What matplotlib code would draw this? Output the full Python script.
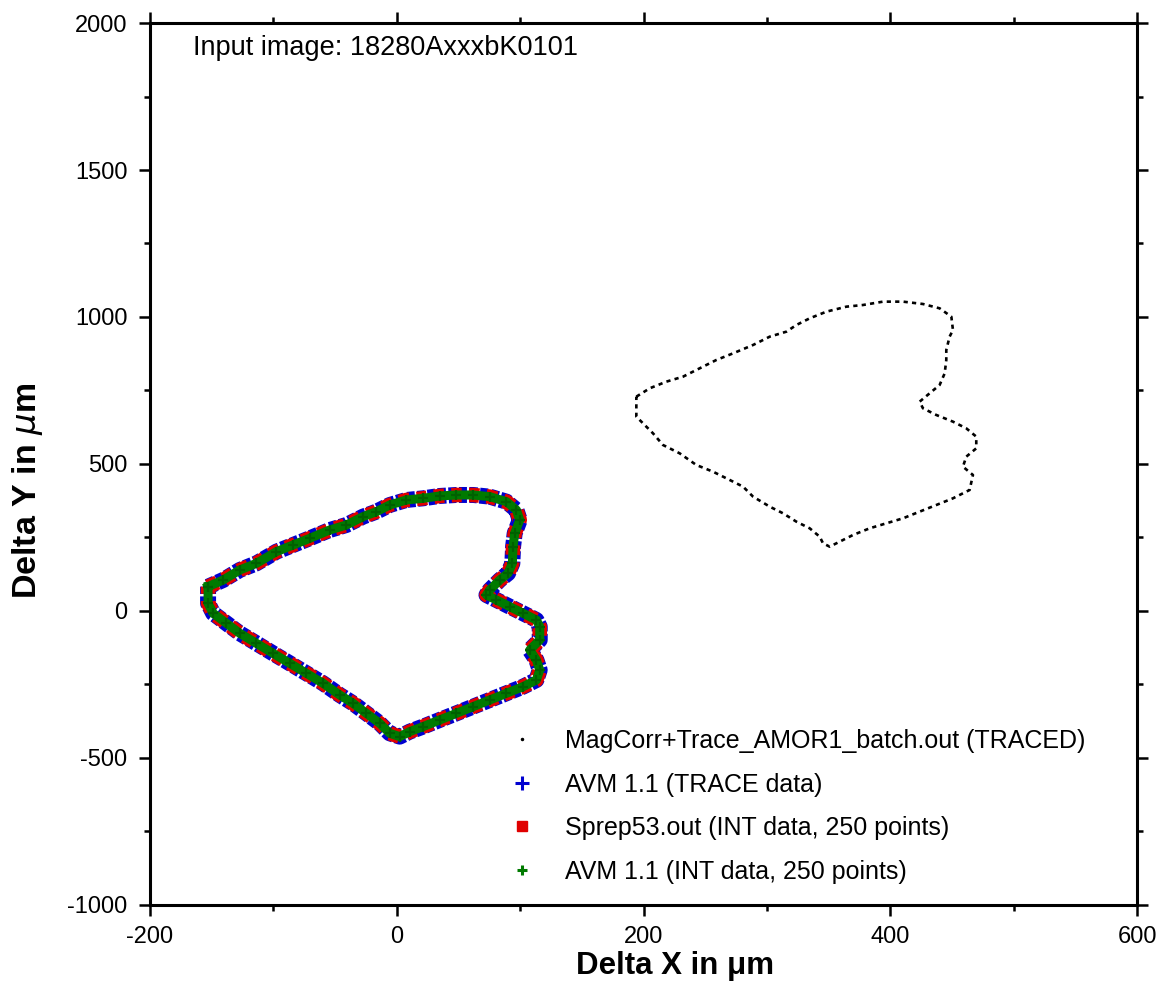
import matplotlib
matplotlib.use("Agg")
import matplotlib.pyplot as plt
from matplotlib.lines import Line2D
from matplotlib.ticker import MultipleLocator

# ---------------------------------------------------------------------------
# Data (micrometres)
# ---------------------------------------------------------------------------
# contour of the aligned outline (AVM trace, Sprep53 INT, AVM INT all follow it)
ALIGNED_X = [-152.9, -140.7, -127.2, -113.7, -97.5, -84.0, -70.5, -54.3, -40.8,
             -27.3, -16.5, -5.7, 7.8, 21.3, 34.8, 48.4, 61.9, 75.4, 88.9, 97.0,
             99.7, 95.6, 94.3, 93.7, 90.2, 83.5, 75.4, 72.7, 80.8, 91.6, 102.4,
             113.2, 115.9, 115.9, 107.8, 113.2, 115.9, 113.2, 102.4, 88.9, 75.4,
             61.9, 48.4, 34.8, 21.3, 10.5, 2.4, -5.7, -13.8, -24.6, -35.4, -46.2,
             -59.7, -73.2, -86.7, -100.3, -113.7, -127.2, -138.0, -148.8, -152.9,
             -152.9]
ALIGNED_Y = [82.8, 105.4, 139.5, 162.1, 201.8, 224.5, 247.2, 275.5, 292.5,
             320.9, 337.9, 360.5, 377.6, 383.2, 391.2, 394.6, 394.6, 388.9, 371.9,
             343.5, 309.5, 264.2, 218.8, 162.1, 128.1, 105.4, 71.4, 54.4, 37.4,
             14.7, -7.9, -30.6, -53.3, -98.6, -132.7, -166.7, -200.7, -234.7,
             -257.4, -280.0, -302.7, -325.4, -348.1, -370.7, -393.4, -410.4,
             -427.4, -416.1, -382.1, -348.1, -314.1, -285.7, -246.0, -212.0,
             -178.0, -144.0, -110.0, -76.0, -41.9, -7.9, 26.1, 82.8]

# raw traced outline (MagCorr+Trace_AMOR1_batch.out)
TRACED_X = [194.2, 205.0, 218.5, 232.0, 245.5, 259.0, 272.6, 288.8, 302.3, 315.8,
            323.9, 334.7, 348.2, 364.4, 377.9, 394.1, 410.3, 426.5, 440.0, 449.5,
            450.8, 448.1, 445.4, 445.4, 444.1, 440.0, 431.9, 423.8, 426.5, 437.3,
            450.8, 461.6, 469.7, 469.7, 461.6, 458.9, 467.0, 464.3, 450.8, 437.3,
            423.8, 410.3, 396.8, 383.3, 369.8, 359.0, 350.9, 345.5, 342.8, 334.7,
            323.9, 313.1, 302.3, 288.8, 280.7, 269.9, 256.3, 242.8, 229.3, 215.8,
            207.7, 199.6, 194.2, 194.2]
TRACED_Y = [729.0, 757.4, 780.0, 797.0, 825.4, 853.7, 876.4, 904.8, 933.1, 950.1,
            972.8, 995.5, 1018.1, 1035.1, 1040.8, 1052.2, 1052.2, 1044.2, 1029.5,
            1001.1, 955.8, 933.1, 887.8, 853.7, 808.4, 768.7, 740.4, 712.0, 689.4,
            666.7, 644.0, 621.3, 593.0, 553.3, 524.9, 490.9, 462.6, 411.6, 383.2,
            360.5, 337.9, 315.2, 298.2, 281.2, 258.5, 235.8, 218.8, 230.2, 252.8,
            281.2, 303.8, 332.2, 354.9, 388.9, 422.9, 445.6, 473.9, 496.6, 536.3,
            564.6, 604.3, 638.3, 661.0, 729.0]

LABELS = [
    "MagCorr+Trace_AMOR1_batch.out (TRACED)",
    "AVM 1.1 (TRACE data)",
    "Sprep53.out (INT data, 250 points)",
    "AVM 1.1 (INT data, 250 points)",
]
TITLE = "Input image: 18280AxxxbK0101"

BLUE = "#0000d0"
RED = "#e00000"
GREEN = "#007a00"

plt.rcParams["font.family"] = ["Liberation Sans", "DejaVu Sans"]
plt.rcParams["axes.unicode_minus"] = False


def main():
    fig = plt.figure(figsize=(11.58, 9.96), dpi=100)
    ax = fig.add_axes([0.1295, 0.0914, 0.8524, 0.8855])

    # traced outline: short black dashes
    ax.plot(TRACED_X, TRACED_Y, color="black", lw=1.9,
            ls=(0, (1.6, 1.6)), dash_capstyle="butt", zorder=2)

    # aligned outlines, stacked: blue trace, red squares, green crosses
    ax.plot(ALIGNED_X, ALIGNED_Y, color=BLUE, lw=11.5, ls=(0, (0.5, 0.15)),
            dash_capstyle="butt", zorder=3)
    ax.plot(ALIGNED_X, ALIGNED_Y, color=RED, lw=10.5, ls=(0, (0.7, 0.5)),
            dash_capstyle="butt", zorder=4)
    ax.plot(ALIGNED_X, ALIGNED_Y, color=GREEN, lw=6.5, zorder=5)
    ax.plot(ALIGNED_X, ALIGNED_Y, color="#006000", ls="none", marker="+",
            ms=7, mew=1.6, zorder=6)

    ax.set_xlim(-200, 600)
    ax.set_ylim(-1000, 2000)
    ax.xaxis.set_major_locator(MultipleLocator(200))
    ax.xaxis.set_minor_locator(MultipleLocator(100))
    ax.yaxis.set_major_locator(MultipleLocator(500))
    ax.yaxis.set_minor_locator(MultipleLocator(250))
    ax.tick_params(which="both", direction="out", top=True, right=True,
                   labelsize=17, width=1.8, pad=8)
    ax.tick_params(axis="x", which="both", pad=7)
    ax.tick_params(which="major", length=8.2)
    ax.tick_params(which="minor", length=4.6)
    for sp in ax.spines.values():
        sp.set_linewidth(2.2)

    ax.set_xlabel("Delta X in μm", fontsize=22.5, fontweight="bold")
    ax.set_ylabel(r"Delta Y in $\mathbf{\mathit{\mu}}$m", fontsize=24.5,
                  fontweight="bold")
    ax.xaxis.set_label_coords(0.532, -0.052)
    ax.yaxis.set_label_coords(-0.106, 0.469)

    ax.text(0.0436, 0.9717, TITLE, transform=ax.transAxes, fontsize=19.5,
            ha="left", va="center")

    handles = [
        Line2D([], [], ls="none", marker=".", ms=3, color="black"),
        Line2D([], [], ls="none", marker="+", ms=10, mew=2.2, color=BLUE),
        Line2D([], [], ls="none", marker="s", ms=6.5, color=RED),
        Line2D([], [], ls="none", marker="+", ms=6.5, mew=2.2, color=GREEN),
    ]
    ax.legend(handles, LABELS, loc="upper left",
              bbox_to_anchor=(0.3668, 0.1995), frameon=False, fontsize=18,
              handlelength=0.8, handletextpad=1.32, labelspacing=0.78,
              borderpad=0, borderaxespad=0)

    fig.savefig("out.png", dpi=100)
    plt.close(fig)


if __name__ == "__main__":
    main()
